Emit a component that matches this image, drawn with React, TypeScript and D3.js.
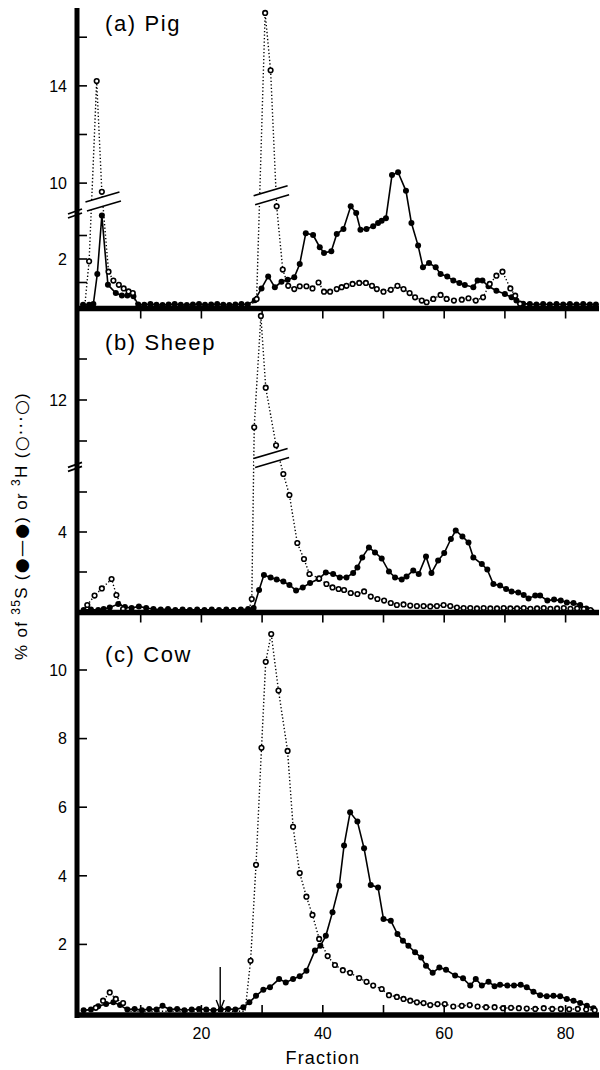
import React from "react";
import * as d3 from "d3";

type Pt = [number, number];

// ---------- data (fraction, % value) ----------
const pigS35: Pt[] = [
  [0.5, 0.05], [1.5, 0.05], [2.2, 0.08], [2.85, 1.36], [3.6, 3.85], [4.6, 0.9], [5.9, 0.55], [6.9, 0.45],
  [7.8, 0.45], [8.8, 0.42], [9.6, 0.06], [10.6, 0.05], [11.6, 0.08], [12.6, 0.05], [13.6, 0.04], [14.6, 0.06],
  [15.6, 0.08], [16.6, 0.05], [17.6, 0.04], [18.6, 0.06], [19.6, 0.08], [20.6, 0.05], [21.6, 0.06], [22.6, 0.08],
  [23.6, 0.05], [24.6, 0.04], [25.6, 0.06], [26.6, 0.08], [27.6, 0.06], [28.8, 0.25], [29.9, 0.75], [31, 1.26],
  [32.1, 0.8], [33.2, 1.03], [34.2, 1.12], [35.3, 1.22], [36.2, 1.79], [37.2, 3.1], [38.4, 3.02], [39.5, 2.5],
  [40.2, 2.26], [41.4, 2.33], [42.3, 3.06], [43.4, 3.28], [44.6, 4.24], [45.5, 3.96], [46.2, 3.25], [47.2, 3.28],
  [48.3, 3.39], [49.1, 3.53], [49.7, 3.63], [50.4, 3.73], [51.4, 5.57], [52.4, 5.69], [53.7, 4.9], [54.6, 3.53],
  [55.7, 2.57], [56.5, 1.65], [57.5, 1.83], [58.6, 1.65], [59.4, 1.36], [60.5, 1.26], [61.5, 1.08], [62.5, 0.98],
  [63.4, 0.89], [64.8, 0.8], [65.5, 1.08], [66.3, 1.08], [67.3, 0.84], [68.6, 0.65], [70, 0.51], [71.1, 0.37],
  [71.9, 0.23], [73, 0.1], [74.1, 0.08], [75.2, 0.06], [76.3, 0.08], [77.4, 0.06], [78.5, 0.08], [79.6, 0.06],
  [80.7, 0.08], [81.8, 0.06], [82.9, 0.08], [84, 0.06], [85, 0.06],
];
const pigH3: Pt[] = [
  [0.8, 0.05], [1.5, 1.9], [2.75, 14.2], [3.6, 9.64], [4.7, 1.46], [5.5, 1.08], [6.4, 0.9], [7.2, 0.75],
  [8, 0.62], [8.7, 0.55], [9.3, 0.05], [28.2, 0.05], [29.1, 0.3], [30.5, 17.0], [31.4, 14.64], [32.4, 4.24],
  [33.4, 1.55], [34.3, 0.86], [35.3, 0.72], [36.2, 0.84], [37.3, 0.84], [38.3, 0.75], [39.3, 1.0], [40.2, 0.61],
  [41.2, 0.61], [42.3, 0.72], [43.1, 0.8], [43.9, 0.86], [44.9, 0.94], [46, 0.98], [47.1, 0.98], [48.1, 0.86],
  [48.9, 0.72], [50, 0.61], [51.2, 0.69], [52.3, 0.86], [53.3, 0.72], [54.3, 0.55], [55.2, 0.37], [56.3, 0.23],
  [57.1, 0.16], [58.2, 0.3], [59.4, 0.47], [60.4, 0.3], [61.6, 0.23], [62.9, 0.27], [64, 0.33], [65.2, 0.23],
  [66.4, 0.37], [67.5, 0.94], [68.6, 1.29], [69.6, 1.46], [70.9, 0.75], [71.7, 0.44], [72.5, 0.1], [85, 0.05],
];
const sheepS35: Pt[] = [
  [0.6, 0.1], [1.8, 0.12], [3, 0.1], [3.9, 0.15], [4.9, 0.23], [6.3, 0.4], [7.4, 0.25], [8.5, 0.2],
  [9.7, 0.28], [10.9, 0.2], [12.1, 0.15], [13.3, 0.12], [14.5, 0.15], [15.7, 0.1], [16.9, 0.12], [18.1, 0.1],
  [19.3, 0.12], [20.5, 0.1], [21.7, 0.12], [22.9, 0.1], [24.1, 0.12], [25.3, 0.1], [26.5, 0.12], [27.7, 0.15],
  [28.6, 0.2], [29.5, 1.1], [30.3, 1.85], [31.4, 1.73], [32.4, 1.62], [33.5, 1.52], [34.5, 1.35], [35.6, 1.07],
  [36.7, 1.23], [37.9, 1.45], [39.3, 1.65], [40.5, 1.98], [41.7, 1.9], [42.8, 1.73], [43.9, 1.73], [45, 1.95],
  [45.7, 2.23], [46.5, 2.73], [47.6, 3.23], [48.6, 2.98], [49.7, 2.68], [50.9, 2.02], [51.9, 1.73], [53, 1.62],
  [53.8, 1.78], [54.9, 2.07], [55.8, 1.9], [57, 2.78], [57.9, 1.95], [59, 2.57], [60, 2.95], [61.1, 3.65],
  [61.9, 4.07], [63, 3.78], [64, 3.48], [64.8, 2.73], [66.2, 2.4], [67.1, 2.12], [68.1, 1.4], [69.2, 1.32],
  [70.2, 1.15], [71.1, 1.02], [72.2, 0.98], [73.1, 0.85], [73.9, 0.68], [75, 0.82], [75.8, 0.82], [77, 0.57],
  [78.1, 0.62], [79.2, 0.57], [80.2, 0.48], [81.3, 0.45], [82.4, 0.35], [83.4, 0.18], [84.3, 0.02],
];
const sheepH3: Pt[] = [
  [0.5, 0.05], [1.2, 0.35], [2.4, 0.82], [3.6, 1.18], [5.2, 1.65], [6, 0.85], [7.1, 0.15], [8, 0.05],
  [27.8, 0.05], [28.3, 0.65], [28.7, 10.67], [29.8, 16.1], [30.6, 12.6], [32.3, 9.79], [33.5, 6.9], [34.5, 5.85],
  [35.8, 3.45], [36.9, 2.65], [37.8, 1.9], [39.4, 1.68], [40.6, 1.4], [41.6, 1.23], [42.6, 1.15], [43.5, 1.1],
  [44.6, 0.95], [45.7, 0.9], [46.8, 1.03], [47.9, 0.77], [49, 0.65], [50.1, 0.57], [51.2, 0.45], [52.2, 0.35],
  [53.3, 0.38], [54.4, 0.32], [55.5, 0.3], [56.6, 0.3], [57.7, 0.28], [58.8, 0.3], [59.9, 0.35], [61, 0.3],
  [62.1, 0.22], [63.2, 0.2], [64.3, 0.2], [65.4, 0.18], [66.5, 0.2], [67.6, 0.18], [68.7, 0.18], [69.8, 0.2],
  [70.9, 0.18], [72, 0.18], [73.1, 0.2], [74.2, 0.16], [75.3, 0.18], [76.4, 0.2], [77.5, 0.16], [78.6, 0.18],
  [79.7, 0.2], [80.8, 0.16], [81.9, 0.18], [83, 0.15], [84.1, 0.1],
];
const cowS35: Pt[] = [
  [0.6, 0.08], [1.8, 0.1], [3, 0.2], [4.3, 0.26], [5.5, 0.31], [6.6, 0.23], [7.8, 0.1], [9, 0.12],
  [10.2, 0.08], [11.4, 0.12], [12.6, 0.1], [13.6, 0.21], [14.8, 0.1], [16, 0.12], [17.2, 0.08], [18.4, 0.1],
  [19.6, 0.12], [20.8, 0.1], [22, 0.08], [23.2, 0.1], [24.4, 0.12], [25.6, 0.1], [26.9, 0.17], [27.9, 0.31],
  [29, 0.5], [30.2, 0.68], [31.3, 0.75], [32.8, 0.99], [33.9, 0.89], [35.1, 0.99], [36.2, 1.07], [37.3, 1.23],
  [38.7, 1.82], [39.6, 1.96], [40.5, 2.25], [41.6, 2.94], [42.7, 3.71], [43.5, 4.88], [44.5, 5.85], [45.7, 5.58],
  [46.8, 4.8], [47.9, 3.73], [49.1, 3.66], [50, 2.74], [51.2, 2.69], [52.3, 2.3], [53.2, 2.11], [54.1, 1.96],
  [55.2, 1.77], [56.2, 1.62], [57, 1.38], [58.1, 1.17], [59.2, 1.33], [60.3, 1.26], [61.8, 1.09], [63.1, 1.01],
  [64.3, 0.8], [65.2, 0.99], [66.2, 0.8], [67.3, 0.91], [68.3, 0.78], [69.2, 0.82], [70.4, 0.8], [71.5, 0.8],
  [72.6, 0.82], [73.6, 0.75], [74.7, 0.62], [75.8, 0.52], [76.9, 0.49], [78, 0.5], [79.1, 0.49], [80.2, 0.41],
  [81.3, 0.36], [82.4, 0.29], [83.5, 0.21], [84.6, 0.14],
];
const cowH3: Pt[] = [
  [0.5, 0.05], [2.6, 0.15], [3.8, 0.36], [4.9, 0.6], [5.9, 0.41], [7.1, 0.29], [8, 0.05], [27.2, 0.05],
  [28.1, 1.52], [29, 4.32], [29.9, 7.73], [30.6, 10.24], [31.5, 11.05], [32.7, 9.4], [34.2, 7.64], [35.1, 5.43],
  [36.2, 4.08], [37.3, 3.39], [38.3, 2.86], [39.4, 2.16], [40.8, 1.66], [42, 1.4], [43.3, 1.25], [44.5, 1.17],
  [46, 1.02], [47.2, 0.91], [48.3, 0.8], [49.7, 0.7], [50.9, 0.52], [52.2, 0.47], [53.3, 0.41], [54.4, 0.36],
  [55.5, 0.31], [56.6, 0.29], [57.7, 0.23], [58.9, 0.26], [60.1, 0.26], [61.5, 0.19], [62.9, 0.21], [64.2, 0.23],
  [65.5, 0.19], [66.9, 0.17], [68.3, 0.17], [69.7, 0.14], [71, 0.15], [72.3, 0.14], [73.6, 0.13], [75, 0.12],
  [76.4, 0.14], [77.8, 0.12], [79.2, 0.12], [80.6, 0.11], [82, 0.12], [83.4, 0.1], [84.8, 0.08],
];

const xTickValues = [10, 20, 30, 40, 50, 60, 70, 80];
const xTickLabels = [20, 40, 60, 80];
const pigYTicks = [1, 2, 3, 10, 12, 14, 16];
const pigYLabels = [2, 10, 14];
const sheepYTicks = [2, 4, 6, 10, 12, 14];
const sheepYLabels = [4, 12];
const cowYTicks = [2, 4, 6, 8, 10];
const cowYLabels = [2, 4, 6, 8, 10];
const panelTitles = ["(a) Pig", "(b) Sheep", "(c) Cow"];
const arrowFraction = 23.1;

const FONT = "'Liberation Sans', Arial, Helvetica, sans-serif";

export default function App() {
  const W = 600;
  const H = 1070;
  const axisX = 77;
  const x = d3.scaleLinear().domain([0, 85]).range([80, 80 + 85 * 6.07]);

  const panels = [
    {
      title: panelTitles[0], titleY: 31, axisY: 308.5, tickDir: 1,
      yS: d3.scaleLinear().domain([0, 4]).range([306, 212]),
      yH: d3.scaleLinear().domain([0, 4.4, 9.4, 17.5]).range([306, 202.6, 197.7, 0.75]),
      s35: pigS35, h3: pigH3, ticks: pigYTicks, labels: pigYLabels,
      axisBreak: 4.0, slashes: [[3.7, 5.5], [31.4, 9.5]],
    },
    {
      title: panelTitles[1], titleY: 350, axisY: 612.5, tickDir: 1,
      yS: d3.scaleLinear().domain([0, 4]).range([612, 532]),
      yH: d3.scaleLinear().domain([0, 7.2, 9.4, 16.5]).range([612, 468, 453.3, 307.75]),
      s35: sheepS35, h3: sheepH3, ticks: sheepYTicks, labels: sheepYLabels,
      axisBreak: 7.6, slashes: [[31.4, 8.7]],
    },
    {
      title: panelTitles[2], titleY: 662, axisY: 1015, tickDir: -1,
      yS: d3.scaleLinear().domain([0, 10]).range([1013, 670]),
      yH: d3.scaleLinear().domain([0, 10]).range([1013, 670]),
      s35: cowS35, h3: cowH3, ticks: cowYTicks, labels: cowYLabels,
      axisBreak: null as number | null, slashes: [] as number[][],
    },
  ];

  return (
    <svg width={W} height={H} style={{ position: "absolute", left: 0, top: 0, background: "#fff" }} fontFamily={FONT}>
      <rect x={0} y={0} width={W} height={H} fill="#fff" />
      {panels.map((p, pi) => {
        const lineS = d3.line<Pt>().x((d) => x(d[0])).y((d) => p.yS(d[1]));
        const lineH = d3.line<Pt>().x((d) => x(d[0])).y((d) => p.yH(d[1]));
        return (
          <g key={pi}>
            {/* data lines */}
            <path d={lineS(p.s35) || ""} fill="none" stroke="#000" strokeWidth={1.6} />
            <path d={lineH(p.h3) || ""} fill="none" stroke="#000" strokeWidth={1.4} strokeDasharray="1.3 2.2" />
            {/* slash break marks on the lines */}
            {p.slashes.map(([f, v], si) => {
              const cx = x(f);
              const cy = p.yH(v);
              const hw = 17;
              const sl = 5;
              return (
                <g key={si}>
                  <polygon
                    points={`${cx - hw},${cy - 4.5 + sl} ${cx + hw},${cy - 4.5 - sl} ${cx + hw + 1.5},${cy + 4.5 - sl} ${cx - hw + 1.5},${cy + 4.5 + sl}`}
                    fill="#fff"
                  />
                  <line x1={cx - hw} y1={cy - 4.5 + sl} x2={cx + hw} y2={cy - 4.5 - sl} stroke="#000" strokeWidth={1.6} />
                  <line x1={cx - hw + 1.5} y1={cy + 4.5 + sl} x2={cx + hw + 1.5} y2={cy + 4.5 - sl} stroke="#000" strokeWidth={1.6} />
                </g>
              );
            })}
            {/* points */}
            {p.s35.map((d, i) => (
              <circle key={"s" + i} cx={x(d[0])} cy={p.yS(d[1])} r={3} fill="#000" />
            ))}
            {p.h3.filter((d) => d[1] > 0.06).map((d, i) => (
              <circle key={"h" + i} cx={x(d[0])} cy={p.yH(d[1])} r={2.3} fill="#fff" stroke="#000" strokeWidth={1.6} />
            ))}
            {/* bottom axis */}
            <line x1={axisX} x2={599} y1={p.axisY} y2={p.axisY} stroke="#000" strokeWidth={5.5} />
            {xTickValues.map((t) => (
              <line key={t} x1={x(t)} x2={x(t)} y1={p.axisY} y2={p.axisY + p.tickDir * 10} stroke="#000" strokeWidth={1.6} />
            ))}
            {/* y ticks */}
            {p.ticks.map((t) => (
              <line key={t} x1={axisX} x2={axisX + 10} y1={p.yH(t)} y2={p.yH(t)} stroke="#000" strokeWidth={1.6} />
            ))}
            {p.labels.map((t) => (
              <text key={t} x={67} y={p.yH(t)} dy="0.36em" textAnchor="end" fontSize={16}>
                {t}
              </text>
            ))}
            {p.axisBreak !== null && (
              <g>
                <line x1={axisX - 9} y1={p.yH(p.axisBreak) + 2} x2={axisX + 5} y2={p.yH(p.axisBreak) - 3} stroke="#000" strokeWidth={1.8} />
                <line x1={axisX - 9} y1={p.yH(p.axisBreak) + 6} x2={axisX + 5} y2={p.yH(p.axisBreak) + 1} stroke="#000" strokeWidth={1.8} />
              </g>
            )}
            <text x={105} y={p.titleY} fontSize={22} letterSpacing={1.6}>
              {p.title}
            </text>
          </g>
        );
      })}
      {/* left axis */}
      <line x1={axisX} x2={axisX} y1={8} y2={1018} stroke="#000" strokeWidth={5} />
      {/* x tick labels */}
      {xTickLabels.map((t) => (
        <text key={t} x={x(t)} y={1039} textAnchor="middle" fontSize={16}>
          {t}
        </text>
      ))}
      <text x={x(40)} y={1064} textAnchor="middle" fontSize={18} letterSpacing={1.2}>
        Fraction
      </text>
      {/* arrow */}
      <g>
        <line x1={x(arrowFraction)} x2={x(arrowFraction)} y1={967} y2={1010} stroke="#000" strokeWidth={1.4} />
        <path
          d={`M${x(arrowFraction) - 4},${1000} L${x(arrowFraction)},${1010} L${x(arrowFraction) + 4},${1000}`}
          fill="none"
          stroke="#000"
          strokeWidth={1.4}
        />
      </g>
      {/* y axis label */}
      <text transform="translate(27,526) rotate(-90)" textAnchor="middle" fontSize={17} letterSpacing={1.3}>
        % of <tspan baselineShift="super" fontSize={12}>35</tspan>S (<tspan fontFamily="'DejaVu Sans'">●—●</tspan>) or{" "}
        <tspan baselineShift="super" fontSize={12}>3</tspan>H (<tspan fontFamily="'DejaVu Sans'">○···○</tspan>)
      </text>
    </svg>
  );
}
